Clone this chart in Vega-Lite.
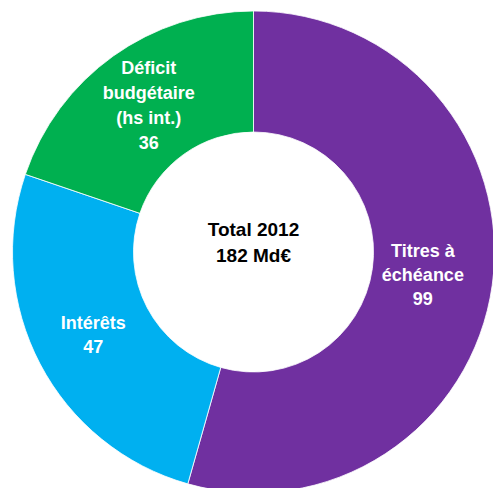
{
  "$schema": "https://vega.github.io/schema/vega-lite/v6.json",
  "width": 507,
  "height": 504,
  "autosize": "none",
  "padding": 0,
  "background": "white",
  "view": {"stroke": null},
  "data": {
    "values": [
      {"poste": "Titres à échéance", "valeur": 99, "ordre": 1, "label": "Titres à\néchéance\n99"},
      {"poste": "Intérêts", "valeur": 47, "ordre": 2, "label": "Intérêts\n47"},
      {"poste": "Déficit budgétaire (hs int.)", "valeur": 36, "ordre": 3, "label": "Déficit\nbudgétaire\n(hs int.)\n36"}
    ]
  },
  "encoding": {
    "theta": {"field": "valeur", "type": "quantitative", "stack": true},
    "order": {"field": "ordre", "type": "quantitative"}
  },
  "layer": [
    {
      "mark": {"type": "arc", "outerRadius": 241, "innerRadius": 120, "stroke": "white", "strokeWidth": 0.8},
      "encoding": {
        "color": {
          "field": "poste", "type": "nominal", "legend": null,
          "scale": {
            "domain": ["Titres à échéance", "Intérêts", "Déficit budgétaire (hs int.)"],
            "range": ["#7030A0", "#00B0F0", "#00B050"]
          }
        }
      }
    },
    {
      "transform": [{"calculate": "datum.ordre == 1 ? datum.label : ''", "as": "t"}],
      "mark": {"type": "text", "radius": 171, "dy": -24, "font": "Liberation Sans", "fontWeight": "bold", "fontSize": 18, "lineHeight": 24, "lineBreak": "\n", "color": "white", "align": "center", "baseline": "middle"},
      "encoding": {"text": {"field": "t", "type": "nominal"}}
    },
    {
      "transform": [{"calculate": "datum.ordre == 2 ? datum.label : ''", "as": "t"}],
      "mark": {"type": "text", "radius": 181, "dy": -12, "font": "Liberation Sans", "fontWeight": "bold", "fontSize": 18, "lineHeight": 24, "lineBreak": "\n", "color": "white", "align": "center", "baseline": "middle"},
      "encoding": {"text": {"field": "t", "type": "nominal"}}
    },
    {
      "transform": [{"calculate": "datum.ordre == 3 ? datum.label : ''", "as": "t"}],
      "mark": {"type": "text", "radius": 180, "dy": -37, "font": "Liberation Sans", "fontWeight": "bold", "fontSize": 18, "lineHeight": 25, "lineBreak": "\n", "color": "white", "align": "center", "baseline": "middle"},
      "encoding": {"text": {"field": "t", "type": "nominal"}}
    },
    {
      "data": {"values": [{"texte": "Total 2012\n182 Md€"}]},
      "mark": {"type": "text", "radius": 0, "theta": 0, "dy": -22, "font": "Liberation Sans", "fontWeight": "bold", "fontSize": 19, "lineHeight": 26, "lineBreak": "\n", "color": "black", "align": "center", "baseline": "middle"},
      "encoding": {
        "theta": null,
        "order": null,
        "text": {"field": "texte", "type": "nominal"}
      }
    }
  ]
}
